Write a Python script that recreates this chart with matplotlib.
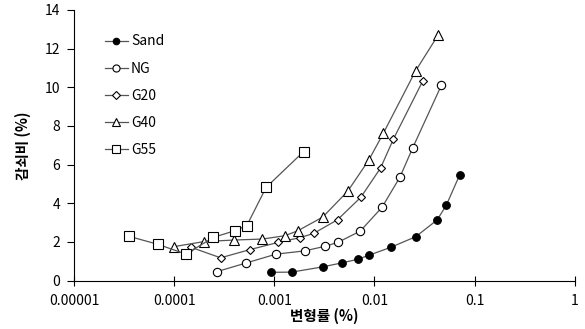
import matplotlib
matplotlib.use('Agg')
import matplotlib.pyplot as plt
from matplotlib.ticker import FixedLocator, FixedFormatter, NullLocator

plt.rcParams['font.family'] = ['Noto Sans CJK KR', 'DejaVu Sans']

# strain (%) / damping ratio (%)
sand_x = [0.000923, 0.00149, 0.00303, 0.00475, 0.00689, 0.00877, 0.0145, 0.0258, 0.0423, 0.0523, 0.0711]
sand_y = [0.43, 0.44, 0.71, 0.92, 1.11, 1.31, 1.72, 2.27, 3.14, 3.91, 5.48]

ng_x = [0.000269, 0.000521, 0.00104, 0.00202, 0.00323, 0.00432, 0.00721, 0.0119, 0.0180, 0.0241, 0.0465]
ng_y = [0.47, 0.91, 1.37, 1.54, 1.78, 1.98, 2.56, 3.79, 5.36, 6.87, 10.09]

g20_x = [0.000146, 0.000291, 0.000566, 0.00110, 0.00179, 0.00247, 0.00428, 0.00731, 0.0115, 0.0154, 0.0304]
g20_y = [1.73, 1.18, 1.60, 1.98, 2.22, 2.44, 3.15, 4.31, 5.82, 7.30, 10.33]

g40_x = [0.000100, 0.000199, 0.000397, 0.000759, 0.00127, 0.00172, 0.00305, 0.00542, 0.00879, 0.0123, 0.0257, 0.0434]
g40_y = [1.76, 2.02, 2.10, 2.15, 2.32, 2.58, 3.29, 4.63, 6.24, 7.63, 10.84, 12.71]

g55_x = [0.0000354, 0.0000687, 0.000131, 0.000247, 0.000404, 0.000532, 0.000828, 0.00196]
g55_y = [2.29, 1.88, 1.37, 2.24, 2.58, 2.85, 4.82, 6.67]

xticks = [1e-5, 1e-4, 1e-3, 1e-2, 1e-1, 1]
xlabels = ['0.00001', '0.0001', '0.001', '0.01', '0.1', '1']

fig = plt.figure(figsize=(5.85, 3.29), dpi=100)
ax = fig.add_axes([0.1265, 0.147, 0.856, 0.823])

line_c = '#555555'
kw = dict(color=line_c, lw=0.9, mec='black', mew=0.8)
ax.plot(sand_x, sand_y, marker='o', ms=5.5, mfc='black', label='Sand', **kw)
ax.plot(ng_x, ng_y, marker='o', ms=6, mfc='white', label='NG', **kw)
ax.plot(g20_x, g20_y, marker='D', ms=4.5, mfc='white', label='G20', **kw)
ax.plot(g40_x, g40_y, marker='^', ms=7, mfc='white', label='G40', **kw)
ax.plot(g55_x, g55_y, marker='s', ms=6.5, mfc='white', label='G55', **kw)

ax.set_xscale('log')
ax.set_xlim(1e-5, 1)
ax.set_ylim(0, 14)
ax.xaxis.set_major_locator(FixedLocator(xticks))
ax.xaxis.set_major_formatter(FixedFormatter(xlabels))
ax.xaxis.set_minor_locator(NullLocator())
ax.set_yticks(range(0, 15, 2))

for s in ['top', 'right']:
    ax.spines[s].set_visible(False)
ax.tick_params(axis='x', direction='inout', length=7, labelsize=10, pad=6)
ax.tick_params(axis='y', direction='out', length=5, labelsize=10, pad=5)

ax.set_xlabel('변형률 (%)', fontsize=10.5, fontweight='bold', labelpad=0)
ax.set_ylabel('감쇠비 (%)', fontsize=10.5, fontweight='bold', labelpad=10)

ax.legend(loc='upper left', bbox_to_anchor=(0.05, 0.93), frameon=False, fontsize=10,
          handlelength=1.7, handletextpad=0.2, labelspacing=0.95, borderaxespad=0,
          markerscale=0.85)

fig.savefig('out.png', dpi=100)
